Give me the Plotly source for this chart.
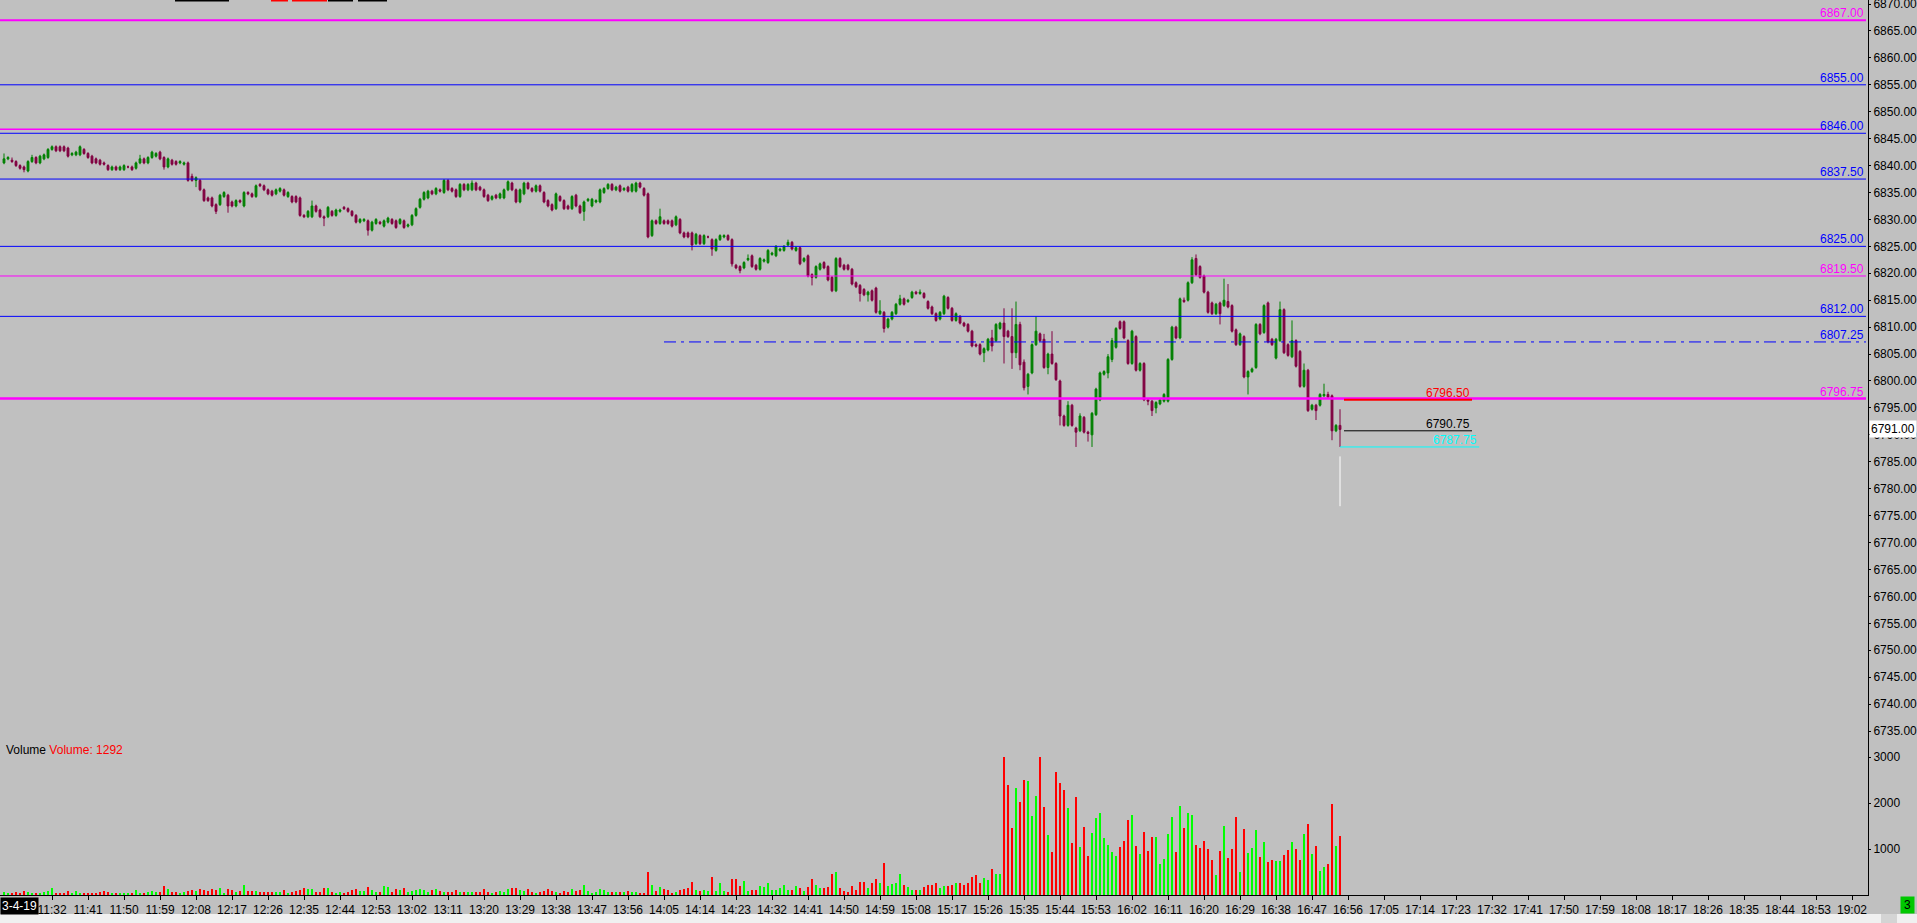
import plotly.graph_objects as go

# ---------------- data ----------------
first_bar_time = "11:20"

open_ = [
6840.5, 6841.25, 6841.0, 6840.75, 6840.0, 6839.75, 6839.0, 6840.75, 6841.5, 6840.5,
6841.25, 6841.5, 6843.0, 6843.5, 6843.5, 6843.5, 6843.25, 6842.0, 6842.0, 6842.0,
6843.0, 6842.25, 6841.75, 6841.25, 6841.0, 6840.5, 6840.0, 6839.25, 6839.75, 6839.25,
6839.25, 6839.75, 6839.75, 6839.5, 6840.5, 6841.25, 6840.5, 6841.5, 6841.75, 6842.5,
6841.5, 6839.75, 6841.0, 6840.75, 6840.5, 6840.25, 6840.5, 6838.0, 6837.25, 6837.25,
6835.5, 6834.0, 6834.0, 6832.75, 6832.75, 6834.25, 6834.5, 6833.25, 6832.5, 6833.5,
6832.5, 6835.0, 6834.75, 6834.25, 6836.5, 6836.25, 6835.5, 6835.25, 6834.75, 6835.25,
6835.5, 6834.25, 6834.25, 6834.25, 6834.0, 6830.75, 6830.5, 6830.5, 6832.5, 6831.75,
6830.5, 6830.5, 6831.5, 6830.75, 6831.5, 6832.25, 6832.0, 6831.5, 6830.75, 6829.5,
6829.75, 6829.75, 6828.0, 6829.25, 6829.5, 6828.75, 6829.5, 6830.0, 6829.75, 6829.25,
6829.75, 6828.75, 6829.0, 6830.75, 6832.25, 6833.75, 6834.0, 6835.25, 6834.75, 6835.5,
6835.0, 6837.25, 6835.75, 6835.5, 6834.25, 6836.5, 6835.5, 6835.5, 6836.75, 6836.0,
6835.5, 6834.5, 6833.75, 6834.5, 6834.0, 6834.0, 6835.5, 6836.75, 6835.5, 6833.25,
6834.75, 6836.75, 6835.75, 6835.25, 6836.25, 6835.0, 6833.5, 6832.75, 6832.0, 6834.25,
6833.5, 6832.5, 6832.0, 6834.5, 6832.5, 6831.5, 6833.5, 6832.5, 6833.25, 6833.25,
6835.0, 6835.75, 6836.5, 6835.5, 6836.25, 6835.5, 6836.0, 6835.25, 6835.25, 6836.75,
6835.75, 6834.75, 6827.0, 6829.75, 6829.25, 6829.75, 6829.75, 6829.75, 6829.0, 6830.0,
6827.5, 6827.5, 6827.5, 6825.5, 6827.0, 6825.5, 6826.75, 6826.25, 6824.25, 6826.25,
6826.75, 6827.0, 6826.25, 6821.5, 6821.25, 6821.0, 6822.5, 6823.25, 6821.5, 6820.75,
6822.25, 6822.0, 6823.5, 6823.25, 6824.25, 6824.25, 6825.25, 6825.75, 6824.25, 6824.75,
6822.25, 6823.25, 6819.75, 6819.25, 6820.75, 6822.0, 6821.25, 6819.25, 6816.75, 6822.75,
6821.5, 6821.5, 6820.75, 6818.25, 6817.75, 6817.0, 6816.0, 6816.75, 6817.25, 6812.5,
6812.75, 6810.0, 6811.5, 6812.5, 6814.25, 6815.25, 6814.75, 6815.5, 6816.5, 6816.25,
6816.25, 6814.75, 6813.75, 6812.5, 6811.5, 6812.5, 6815.5, 6813.5, 6811.25, 6812.0,
6810.75, 6810.5, 6809.25, 6806.75, 6806.75, 6805.25, 6805.75, 6808.0, 6807.5, 6809.75,
6810.75, 6809.25, 6808.25, 6805.25, 6810.5, 6803.5, 6799.0, 6801.5, 6806.75, 6808.75,
6807.75, 6802.5, 6805.0, 6803.25, 6800.0, 6793.5, 6791.75, 6795.5, 6791.25, 6790.75,
6793.25, 6790.5, 6790.0, 6793.75, 6796.5, 6801.25, 6801.5, 6804.0, 6806.25, 6811.0,
6811.0, 6807.5, 6803.25, 6808.25, 6802.0, 6803.25, 6796.5, 6796.25, 6795.0, 6795.75,
6796.25, 6796.25, 6804.0, 6810.0, 6808.0, 6815.0, 6815.0, 6818.25, 6822.75, 6821.25,
6819.5, 6816.5, 6814.5, 6812.5, 6814.5, 6814.0, 6814.75, 6814.0, 6809.5, 6806.75,
6808.25, 6800.75, 6801.75, 6802.5, 6810.5, 6809.0, 6814.5, 6807.75, 6804.25, 6807.5,
6813.25, 6806.75, 6804.5, 6807.5, 6805.5, 6799.0, 6802.0, 6794.75, 6795.5, 6795.5,
6797.25, 6797.5, 6797.25, 6790.75, 6791.75,
]

high = [
6842.25, 6841.75, 6841.5, 6841.0, 6840.25, 6840.0, 6841.0, 6842.0, 6841.75, 6842.0,
6842.25, 6843.25, 6843.75, 6843.75, 6843.75, 6843.75, 6843.5, 6842.5, 6842.75, 6843.75,
6843.25, 6842.5, 6842.0, 6841.5, 6841.25, 6840.75, 6840.25, 6840.0, 6840.0, 6840.0,
6840.25, 6840.0, 6840.0, 6840.75, 6842.0, 6841.5, 6841.75, 6842.75, 6842.5, 6842.75,
6841.75, 6841.5, 6841.25, 6841.0, 6841.0, 6840.75, 6840.75, 6838.5, 6838.0, 6837.5,
6835.75, 6834.25, 6834.25, 6833.0, 6834.75, 6835.25, 6834.75, 6833.5, 6833.75, 6833.75,
6835.25, 6835.25, 6835.0, 6836.5, 6836.75, 6836.5, 6835.75, 6835.5, 6835.75, 6836.0,
6835.75, 6835.25, 6834.5, 6834.5, 6834.25, 6831.0, 6831.75, 6833.5, 6832.75, 6832.0,
6830.75, 6832.5, 6831.75, 6832.0, 6832.0, 6832.5, 6832.25, 6831.75, 6831.0, 6830.25,
6830.25, 6830.0, 6829.75, 6830.25, 6829.75, 6830.0, 6830.5, 6830.25, 6830.0, 6830.25,
6830.0, 6829.25, 6831.0, 6832.25, 6834.0, 6835.25, 6835.5, 6835.5, 6836.0, 6835.75,
6837.5, 6837.5, 6836.0, 6835.75, 6836.75, 6836.75, 6836.75, 6837.25, 6837.0, 6836.25,
6835.75, 6834.75, 6834.5, 6834.75, 6835.0, 6835.75, 6837.25, 6837.0, 6835.75, 6835.75,
6837.0, 6837.0, 6836.0, 6836.5, 6836.5, 6835.25, 6833.75, 6833.0, 6835.0, 6834.5,
6833.75, 6832.75, 6834.5, 6834.75, 6832.75, 6833.5, 6834.0, 6834.0, 6833.75, 6835.75,
6836.0, 6836.75, 6836.75, 6836.25, 6836.5, 6836.0, 6836.25, 6836.75, 6837.0, 6837.0,
6836.0, 6835.0, 6830.0, 6830.0, 6832.0, 6830.0, 6830.0, 6830.0, 6830.75, 6830.25,
6827.75, 6827.75, 6827.75, 6827.5, 6827.25, 6827.25, 6827.0, 6826.5, 6826.5, 6827.25,
6827.25, 6827.25, 6826.5, 6821.75, 6821.5, 6822.25, 6823.5, 6823.5, 6821.75, 6823.0,
6822.75, 6824.5, 6824.0, 6825.25, 6824.75, 6825.25, 6826.25, 6826.0, 6825.0, 6825.0,
6823.0, 6823.5, 6820.0, 6821.5, 6822.0, 6822.25, 6821.5, 6819.5, 6823.0, 6823.0,
6821.75, 6821.75, 6821.0, 6818.5, 6818.0, 6817.25, 6816.75, 6817.0, 6817.5, 6815.0,
6813.0, 6811.75, 6813.0, 6814.5, 6816.0, 6815.5, 6815.25, 6816.75, 6816.75, 6817.0,
6816.5, 6815.0, 6814.0, 6812.75, 6813.0, 6816.0, 6815.75, 6813.75, 6812.75, 6812.25,
6811.0, 6810.75, 6809.5, 6807.0, 6807.0, 6806.25, 6808.0, 6809.5, 6810.75, 6811.0,
6813.5, 6809.5, 6813.5, 6814.75, 6811.0, 6804.0, 6801.5, 6807.0, 6812.0, 6809.0,
6808.75, 6805.25, 6809.25, 6803.5, 6800.25, 6793.75, 6796.25, 6795.75, 6791.5, 6794.0,
6793.5, 6790.75, 6794.25, 6798.75, 6801.75, 6802.0, 6805.0, 6808.0, 6810.0, 6811.25,
6811.25, 6807.75, 6809.5, 6808.5, 6803.5, 6803.5, 6796.75, 6796.5, 6796.25, 6796.75,
6797.75, 6804.25, 6810.25, 6810.25, 6815.5, 6815.5, 6818.5, 6823.0, 6823.5, 6821.5,
6819.75, 6816.75, 6814.75, 6814.5, 6814.75, 6819.0, 6818.0, 6814.25, 6809.75, 6809.0,
6808.5, 6802.0, 6802.5, 6810.75, 6810.75, 6814.25, 6814.75, 6808.0, 6808.0, 6814.75,
6813.5, 6807.0, 6811.25, 6807.75, 6805.75, 6803.25, 6802.25, 6795.75, 6795.75, 6797.75,
6799.5, 6798.0, 6797.5, 6792.0, 6794.75,
]

low = [
6840.25, 6841.0, 6840.5, 6839.75, 6839.25, 6838.75, 6838.75, 6840.5, 6840.25, 6840.25,
6841.0, 6841.25, 6842.75, 6842.5, 6842.5, 6842.5, 6841.5, 6841.75, 6841.75, 6841.75,
6842.0, 6841.25, 6840.25, 6840.25, 6840.0, 6840.0, 6839.0, 6839.0, 6839.0, 6839.0,
6839.0, 6839.5, 6839.0, 6839.25, 6840.25, 6840.25, 6840.25, 6841.25, 6841.5, 6841.0,
6839.25, 6839.5, 6840.0, 6840.0, 6840.25, 6840.0, 6837.0, 6837.0, 6836.0, 6835.25,
6833.25, 6833.25, 6832.25, 6831.0, 6832.5, 6834.0, 6831.25, 6832.25, 6832.25, 6833.0,
6832.25, 6834.5, 6834.0, 6834.0, 6836.0, 6835.25, 6834.5, 6834.25, 6834.5, 6835.0,
6834.25, 6834.0, 6833.0, 6833.0, 6830.5, 6830.25, 6830.25, 6830.25, 6831.25, 6830.25,
6828.75, 6830.25, 6830.5, 6830.5, 6831.25, 6831.75, 6831.25, 6830.5, 6829.25, 6829.25,
6829.5, 6827.0, 6827.75, 6829.0, 6829.0, 6828.5, 6829.25, 6829.0, 6828.25, 6829.0,
6828.25, 6828.5, 6828.75, 6830.5, 6832.0, 6833.5, 6833.75, 6834.5, 6834.5, 6835.0,
6834.75, 6835.25, 6835.0, 6834.0, 6834.0, 6835.25, 6835.25, 6835.25, 6835.25, 6835.25,
6834.0, 6833.25, 6833.5, 6833.75, 6833.75, 6833.75, 6835.25, 6835.25, 6833.0, 6833.0,
6834.5, 6835.5, 6835.0, 6835.0, 6835.0, 6833.0, 6832.25, 6831.5, 6831.75, 6833.25,
6831.75, 6831.75, 6831.75, 6832.25, 6831.0, 6829.75, 6833.25, 6832.25, 6833.0, 6833.0,
6834.75, 6835.5, 6835.25, 6835.25, 6835.0, 6835.25, 6835.0, 6835.0, 6835.0, 6835.75,
6834.25, 6826.5, 6826.75, 6829.0, 6829.0, 6829.0, 6829.0, 6828.5, 6828.75, 6827.25,
6826.5, 6826.5, 6824.25, 6825.25, 6825.25, 6825.25, 6826.5, 6823.25, 6824.0, 6826.0,
6826.5, 6826.0, 6821.25, 6820.75, 6820.0, 6820.75, 6822.25, 6821.0, 6820.5, 6820.5,
6822.0, 6821.75, 6823.25, 6823.0, 6824.0, 6824.0, 6825.0, 6824.25, 6824.0, 6821.5,
6822.0, 6819.25, 6817.75, 6819.0, 6820.5, 6820.75, 6818.5, 6816.5, 6816.5, 6821.0,
6820.5, 6820.5, 6817.75, 6817.25, 6814.75, 6815.75, 6814.75, 6814.75, 6812.5, 6812.25,
6809.0, 6809.75, 6811.25, 6812.25, 6814.0, 6814.0, 6814.5, 6815.25, 6816.0, 6816.0,
6815.25, 6813.25, 6812.25, 6811.0, 6811.25, 6812.25, 6813.25, 6811.0, 6811.0, 6810.5,
6810.0, 6809.0, 6806.25, 6806.25, 6804.75, 6803.5, 6805.5, 6805.5, 6807.25, 6809.5,
6803.25, 6808.0, 6802.25, 6804.25, 6802.0, 6798.25, 6797.5, 6801.25, 6806.5, 6807.25,
6802.25, 6801.25, 6803.0, 6800.0, 6791.75, 6791.5, 6791.5, 6791.5, 6787.75, 6790.5,
6790.25, 6788.75, 6787.75, 6793.5, 6796.25, 6801.0, 6800.5, 6803.5, 6806.0, 6809.5,
6807.75, 6803.0, 6803.0, 6801.75, 6801.75, 6796.25, 6795.5, 6793.5, 6794.0, 6795.5,
6796.0, 6796.0, 6803.75, 6807.75, 6807.75, 6814.5, 6814.75, 6818.0, 6819.5, 6819.0,
6816.25, 6812.5, 6812.25, 6812.25, 6810.5, 6813.75, 6813.5, 6809.0, 6806.5, 6806.5,
6800.5, 6797.5, 6801.5, 6802.25, 6808.5, 6808.75, 6807.0, 6806.5, 6804.0, 6807.25,
6805.0, 6804.5, 6804.25, 6802.5, 6798.75, 6798.75, 6794.25, 6794.5, 6792.75, 6795.25,
6797.0, 6796.75, 6789.0, 6790.5, 6787.75,
]

close = [
6841.25, 6841.5, 6840.75, 6840.0, 6839.5, 6839.25, 6840.75, 6841.5, 6840.5, 6841.75,
6842.0, 6843.0, 6843.5, 6842.75, 6842.75, 6842.75, 6841.75, 6842.25, 6842.5, 6843.5,
6842.25, 6841.5, 6840.5, 6840.5, 6840.25, 6840.25, 6839.25, 6839.75, 6839.25, 6839.75,
6840.0, 6839.75, 6839.25, 6840.5, 6841.25, 6840.5, 6841.5, 6842.5, 6842.25, 6841.25,
6839.75, 6841.25, 6840.25, 6840.25, 6840.75, 6840.5, 6837.25, 6837.25, 6837.75, 6835.5,
6833.5, 6833.5, 6832.5, 6831.5, 6834.5, 6835.0, 6832.5, 6832.5, 6833.5, 6833.25,
6835.0, 6834.75, 6834.25, 6836.25, 6836.25, 6835.5, 6834.75, 6834.5, 6835.5, 6835.75,
6834.5, 6835.0, 6833.25, 6833.25, 6830.75, 6830.5, 6831.5, 6832.5, 6831.5, 6830.5,
6830.25, 6832.25, 6830.75, 6831.75, 6831.75, 6832.0, 6831.5, 6830.75, 6829.5, 6830.0,
6830.0, 6828.0, 6829.5, 6830.0, 6829.25, 6829.75, 6830.25, 6829.25, 6828.5, 6830.0,
6828.5, 6829.0, 6830.75, 6832.0, 6833.75, 6835.0, 6835.25, 6834.75, 6835.75, 6835.25,
6837.25, 6835.5, 6835.25, 6834.25, 6836.5, 6835.5, 6836.5, 6836.75, 6835.5, 6835.5,
6834.25, 6833.5, 6834.25, 6834.0, 6834.75, 6835.5, 6837.0, 6835.5, 6833.25, 6835.5,
6836.75, 6835.75, 6835.25, 6836.25, 6835.25, 6833.25, 6832.5, 6831.75, 6834.75, 6833.5,
6832.0, 6832.0, 6834.25, 6832.5, 6831.25, 6833.25, 6833.75, 6833.75, 6833.5, 6835.5,
6835.75, 6836.5, 6835.5, 6836.0, 6835.25, 6835.75, 6835.25, 6836.5, 6836.75, 6836.0,
6834.5, 6826.75, 6829.75, 6829.25, 6830.5, 6829.25, 6829.25, 6828.75, 6830.5, 6827.5,
6826.75, 6826.75, 6825.25, 6827.25, 6825.5, 6827.0, 6826.75, 6824.5, 6826.25, 6827.0,
6827.0, 6826.25, 6821.75, 6821.0, 6820.5, 6822.0, 6822.75, 6821.25, 6820.75, 6822.75,
6822.5, 6824.25, 6823.75, 6825.0, 6824.5, 6825.0, 6825.75, 6824.5, 6824.75, 6821.75,
6822.75, 6819.5, 6819.25, 6821.25, 6821.75, 6821.0, 6818.75, 6816.75, 6822.75, 6821.25,
6820.75, 6820.75, 6818.0, 6817.5, 6816.25, 6816.0, 6816.5, 6815.0, 6812.75, 6813.0,
6809.75, 6811.5, 6812.75, 6814.25, 6815.25, 6814.25, 6815.0, 6816.5, 6816.25, 6816.5,
6815.5, 6813.5, 6812.5, 6811.25, 6812.75, 6815.75, 6813.5, 6811.25, 6812.5, 6810.75,
6810.25, 6809.25, 6806.5, 6806.5, 6805.0, 6806.0, 6807.75, 6806.5, 6810.5, 6810.75,
6808.25, 6808.25, 6805.25, 6810.5, 6803.0, 6798.75, 6801.25, 6806.75, 6809.25, 6807.5,
6802.5, 6805.0, 6803.25, 6800.25, 6793.5, 6791.75, 6795.5, 6791.75, 6790.5, 6793.5,
6790.5, 6790.25, 6794.0, 6798.5, 6801.5, 6801.75, 6804.5, 6807.5, 6809.75, 6809.75,
6808.0, 6803.25, 6809.25, 6802.0, 6803.25, 6796.5, 6796.25, 6794.5, 6796.0, 6796.5,
6797.5, 6804.0, 6810.0, 6808.0, 6815.25, 6814.75, 6818.25, 6822.5, 6819.75, 6819.25,
6816.5, 6812.75, 6812.5, 6814.25, 6812.5, 6815.0, 6813.75, 6809.25, 6806.75, 6808.75,
6800.75, 6801.75, 6802.25, 6810.5, 6808.75, 6814.0, 6807.25, 6806.75, 6807.75, 6813.25,
6805.25, 6804.75, 6807.5, 6802.75, 6799.0, 6802.0, 6794.5, 6795.5, 6794.5, 6797.5,
6797.5, 6797.0, 6790.75, 6791.75, 6791.0,
]

volume = [
58, 36, 51, 58, 51, 87, 58, 36, 51, 51,
58, 87, 152, 36, 25, 51, 87, 51, 87, 51,
51, 51, 51, 51, 72, 87, 58, 36, 36, 36,
51, 51, 51, 109, 51, 51, 58, 87, 58, 65,
196, 130, 58, 72, 36, 58, 87, 109, 87, 130,
109, 87, 130, 109, 152, 51, 130, 109, 58, 80,
217, 87, 87, 87, 58, 72, 58, 58, 72, 72,
109, 36, 58, 87, 109, 152, 130, 130, 58, 72,
152, 152, 72, 51, 58, 36, 72, 109, 130, 87,
87, 174, 109, 72, 58, 196, 174, 72, 130, 109,
152, 72, 87, 109, 130, 109, 72, 109, 130, 94,
72, 58, 58, 109, 72, 72, 72, 72, 58, 58,
130, 72, 51, 58, 87, 58, 130, 152, 152, 109,
87, 130, 58, 36, 58, 87, 130, 87, 72, 36,
87, 58, 130, 87, 109, 217, 87, 36, 58, 130,
109, 72, 72, 72, 58, 58, 87, 72, 58, 50,
36, 507, 217, 94, 167, 130, 109, 50, 58, 109,
130, 152, 283, 109, 94, 109, 87, 391, 87, 261,
87, 58, 348, 348, 196, 304, 87, 109, 109, 196,
181, 261, 109, 109, 145, 217, 109, 109, 196, 152,
87, 167, 348, 217, 152, 152, 167, 457, 500, 152,
87, 58, 196, 109, 283, 283, 152, 268, 348, 261,
695, 196, 239, 261, 457, 217, 167, 109, 109, 109,
167, 217, 217, 261, 152, 196, 196, 217, 261, 261,
217, 261, 391, 435, 261, 370, 326, 565, 457, 457,
2993, 2384, 1464, 2333, 2022, 2500, 2478, 1717, 2152, 2993,
1913, 1304, 935, 2674, 2435, 2283, 1891, 1130, 2130, 1043,
1478, 848, 1348, 1674, 1783, 1239, 1087, 935, 848, 1043,
1174, 1630, 1739, 1065, 891, 1370, 957, 1261, 1261, 674,
783, 1326, 1696, 935, 1935, 1457, 1783, 1739, 1087, 1022,
1174, 1000, 761, 435, 957, 1500, 804, 1000, 1696, 500,
1435, 913, 1022, 1413, 826, 1152, 717, 761, 739, 739,
870, 978, 1152, 1000, 761, 1326, 1543, 891, 1065, 522,
609, 674, 1978, 1065, 1292,
]

time_labels = [
"11:32", "11:41", "11:50", "11:59", "12:08", "12:17", "12:26", "12:35", "12:44",
"12:53", "13:02", "13:11", "13:20", "13:29", "13:38", "13:47", "13:56", "14:05",
"14:14", "14:23", "14:32", "14:41", "14:50", "14:59", "15:08", "15:17", "15:26",
"15:35", "15:44", "15:53", "16:02", "16:11", "16:20", "16:29", "16:38", "16:47",
"16:56", "17:05", "17:14", "17:23", "17:32", "17:41", "17:50", "17:59", "18:08",
"18:17", "18:26", "18:35", "18:44", "18:53", "19:02",
]

price_ticks = [6870, 6865, 6860, 6855, 6850, 6845, 6840, 6835, 6830, 6825,
               6820, 6815, 6810, 6805, 6800, 6795, 6790, 6785, 6780, 6775,
               6770, 6765, 6760, 6755, 6750, 6745, 6740, 6735]
volume_ticks = [1000, 2000, 3000]

level_prices = [6867.00, 6855.00, 6846.75, 6846.00, 6837.50, 6825.00, 6819.50,
                6812.00, 6807.25, 6796.75]
level_colors = ["#ff00ff", "#0000ff", "#ff00ff", "#0000ff", "#0000ff", "#0000ff",
                "#ff00ff", "#0000ff", "#0000ff", "#ff00ff"]
level_widths = [2, 1, 1.5, 1, 1, 1, 1, 1, 1, 2.5]
level_dash = ["solid"] * 8 + ["12px,5px,3px,5px", "solid"]
level_show_label = [True, True, False, True, True, True, True, True, True, True]

short_prices = [6796.50, 6790.75, 6787.75]
short_colors = ["#ff0000", "#000000", "#00ffff"]
last_price = 6791.00
volume_text = "Volume: 1292"
date_text = "3-4-19"

# ---------------- helpers ----------------
FONT = "Liberation Sans, Arial, sans-serif"
FS = 12
PLOT_W, PLOT_H = 1868, 895


def minutes(t):
    h, m = t.split(":")
    return int(h) * 60 + int(m)


t0 = minutes(first_bar_time)
idx = list(range(len(close)))
tick_pos = [minutes(t) - t0 for t in time_labels]


def px(xp):
    return xp / PLOT_W


def py(yp):
    return 1 - yp / PLOT_H


up = [c >= o for o, c in zip(open_, close)]
vol_colors = ["#00ff00" if u else "#ff0000" for u in up]

fig = go.Figure()
fig.add_trace(go.Bar(
    x=idx, y=volume, yaxis="y2", width=0.45,
    marker=dict(color=vol_colors, line=dict(width=0)),
))
fig.add_trace(go.Candlestick(
    x=idx, open=open_, high=high, low=low, close=close,
    increasing=dict(line=dict(color="#008000", width=1), fillcolor="#008000"),
    decreasing=dict(line=dict(color="#800040", width=1), fillcolor="#800040"),
    whiskerwidth=0,
))

shapes = []
annotations = []
x_left, x_end = -1, 465.5
for p, c, w, d, show in zip(level_prices, level_colors, level_widths, level_dash, level_show_label):
    x0 = 165 if d != "solid" else x_left
    x1 = x_end if show else 455.5
    shapes.append(dict(type="line", xref="x", yref="y", x0=x0, x1=x1, y0=p, y1=p,
                       line=dict(color=c, width=w, dash=d)))
    if show:
        annotations.append(dict(x=x_end, y=p, xref="x", yref="y", text=f"{p:.2f}",
                                showarrow=False, xanchor="right", yanchor="bottom",
                                yshift=-2, font=dict(color=c, size=FS, family=FONT)))

last_i = idx[-1]
short_ranges = [(last_i + 1, last_i + 33, 2), (last_i + 1, last_i + 33, 1), (last_i, last_i + 34.8, 1)]
for p, c, (a, b, w) in zip(short_prices, short_colors, short_ranges):
    shapes.append(dict(type="line", xref="x", yref="y", x0=a, x1=b, y0=p, y1=p,
                       line=dict(color=c, width=w)))
    annotations.append(dict(x=b, y=p, xref="x", yref="y", text=f"{p:.2f}", showarrow=False,
                            xanchor="right", yanchor="bottom", yshift=-2,
                            font=dict(color=c, size=FS, family=FONT)))

# white marker line under the last bar
shapes.append(dict(type="line", xref="x", yref="y", x0=last_i, x1=last_i,
                   y0=6786.0, y1=6776.75, line=dict(color="white", width=1)))

# toolbar remnants at the very top
for a, b, c in [(175, 229, "#000000"), (271, 288, "#ff0000"), (292, 327, "#ff0000"),
                (328, 353, "#000000"), (358, 387, "#000000")]:
    shapes.append(dict(type="rect", xref="paper", yref="paper", x0=px(a), x1=px(b),
                       y0=py(0), y1=py(1.5), line=dict(width=0), fillcolor=c))

# bottom status strip
shapes.append(dict(type="rect", xref="paper", yref="paper", x0=0, x1=px(1917),
                   y0=py(914), y1=py(923), line=dict(width=0), fillcolor="#f0f0f0", layer="below"))
shapes.append(dict(type="rect", xref="paper", yref="paper", x0=px(1881), x1=px(1897),
                   y0=py(914), y1=py(923), line=dict(width=0), fillcolor="#d4d4d4"))

# current price box
annotations.append(dict(x=1.0, y=last_price, xref="paper", yref="y", text=f"{last_price:.2f}",
                        showarrow=False, xanchor="left", yanchor="middle", bgcolor="white",
                        borderpad=1, xshift=1, font=dict(color="black", size=FS, family=FONT)))
# volume title
annotations.append(dict(x=px(4), y=py(750), xref="paper", yref="paper",
                        text="Volume <span style='color:#ff0000'>" + volume_text + "</span>",
                        showarrow=False, xanchor="left", yanchor="middle",
                        font=dict(color="black", size=FS, family=FONT)))
# date label
annotations.append(dict(x=0, y=py(905.5), xref="paper", yref="paper", text=date_text,
                        showarrow=False, xanchor="left", yanchor="middle", bgcolor="black",
                        borderpad=1, font=dict(color="white", size=FS, family=FONT)))
# green status box
annotations.append(dict(x=px(1907.5), y=py(905), xref="paper", yref="paper", text="3",
                        showarrow=False, xanchor="center", yanchor="middle", bgcolor="#00c800",
                        width=11, height=14, borderpad=1,
                        font=dict(color="black", size=FS, family=FONT)))

fig.update_layout(
    width=1917, height=923,
    margin=dict(l=0, r=1917 - PLOT_W, t=0, b=923 - PLOT_H, autoexpand=False),
    paper_bgcolor="#c0c0c0", plot_bgcolor="#c0c0c0",
    showlegend=False, hovermode=False, boxgap=0.35, bargap=0,
    font=dict(family=FONT, size=FS, color="black"),
    shapes=shapes, annotations=annotations,
    xaxis=dict(range=[-1, 466], tickvals=tick_pos, ticktext=time_labels,
               showgrid=False, zeroline=False, ticks="outside", ticklen=4,
               tickcolor="black", showline=True, linecolor="black", linewidth=1,
               rangeslider=dict(visible=False), automargin=False,
               tickfont=dict(size=FS, family=FONT, color="black")),
    yaxis=dict(side="right", range=[6704.55, 6870.75], tickvals=price_ticks,
               ticktext=[f"{v:.2f}" for v in price_ticks], showgrid=False, zeroline=False,
               ticks="outside", ticklen=2, tickcolor="black", showline=True,
               linecolor="black", linewidth=1, automargin=False, ticklabeloverflow="allow",
               tickfont=dict(size=FS, family=FONT, color="black")),
    yaxis2=dict(side="right", overlaying="y", range=[0, PLOT_H / 0.046],
                tickvals=volume_ticks, ticktext=[str(v) for v in volume_ticks],
                showgrid=False, zeroline=False, ticks="outside", ticklen=2,
                tickcolor="black", showline=False, automargin=False,
                tickfont=dict(size=FS, family=FONT, color="black")),
)

fig.write_html(
    "out.html",
    config={"displayModeBar": False},
    post_script="document.body.style.margin='0';document.body.style.overflow='hidden';"
                "document.documentElement.style.background='#c0c0c0';",
)
